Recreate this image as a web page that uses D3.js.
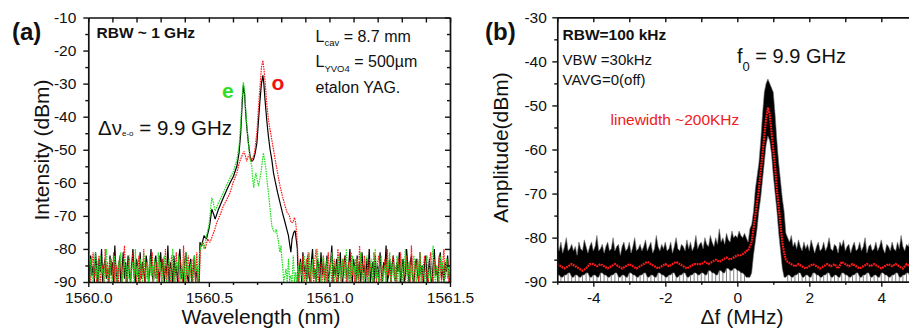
<!DOCTYPE html>
<html><head><meta charset="utf-8">
<script src="https://cdn.jsdelivr.net/npm/d3@7/dist/d3.min.js"></script>
<style>
body{margin:0;background:#fff}
svg{display:block}
text{font-family:"Liberation Sans",Arial,sans-serif}
</style>
</head><body>
<svg id="c" width="909" height="331"></svg>
<script>
// ---------------- Panel (a): optical spectrum ----------------
const wlTicksMajor = [1560.0, 1560.5, 1561.0, 1561.5];
const dbTicksA = [-90, -80, -70, -60, -50, -40, -30, -20, -10];
const noiseStep = 0.005;           // nm, sampling of noise floor
const noiseStartL = 1560.00;
const noiseStartR = 1560.88;
const noiseStartRGreen = 1560.82;

const blackNoiseL = [-84,-90,-82,-88,-85,-90,-81,-86,-90,-83,-87,-80,-90,-85,-83,-89,-86,-90,-82,-88,-84,-90,-79,-87,-90,-85,-83,-90,-86,-81,-89,-84,-90,-82,-87,-90,-85,-80,-88,-90,-83,-86,-90,-81,-89,-84,-87,-90,-82,-85,-90,-86,-80,-88,-90,-84,-82,-89,-86,-90,-81,-87,-83,-90,-85,-88,-79,-90,-84,-86,-90,-82,-88,-85,-90,-83,-80,-89,-86,-90,-84,-81,-88,-90,-85,-83,-90,-87,-82,-90,-86,-90];
const redNoiseL   = [-83,-88,-90,-85,-81,-89,-86,-90,-84,-82,-90,-87,-85,-90,-80,-88,-84,-90,-86,-83,-89,-81,-90,-85,-87,-90,-82,-86,-90,-84,-79,-88,-90,-85,-83,-90,-86,-81,-89,-84,-90,-87,-82,-90,-85,-88,-80,-90,-84,-86,-90,-83,-87,-81,-90,-85,-89,-84,-90,-82,-86,-90,-83,-88,-80,-90,-85,-87,-90,-82,-84,-90,-86,-81,-88,-90,-83,-85,-90,-79,-87,-90,-84,-82,-89,-86,-90,-83,-85,-90,-81,-90];
const greenNoiseL = [-86,-90,-83,-87,-90,-84,-81,-89,-85,-90,-82,-88,-86,-90,-84,-80,-90,-87,-83,-89,-90,-85,-82,-88,-90,-84,-86,-81,-90,-87,-83,-90,-85,-89,-82,-90,-86,-84,-90,-80,-88,-85,-90,-83,-87,-90,-81,-86,-89,-84,-90,-82,-88,-85,-90,-83,-86,-90,-81,-87,-84,-90,-85,-82,-89,-90,-86,-83,-88,-90,-80,-85,-90,-84,-87,-82,-90,-86,-89,-83,-90,-81,-88,-85,-90,-84,-86,-90,-82,-87,-85,-90];

const blackNoiseR = [-83,-90,-81,-87,-85,-90,-82,-88,-90,-84,-80,-89,-86,-90,-83,-85,-90,-81,-88,-84,-90,-86,-82,-90,-87,-84,-79,-90,-85,-88,-83,-90,-86,-81,-89,-90,-84,-82,-87,-90,-85,-80,-88,-90,-83,-86,-90,-82,-89,-84,-90,-81,-87,-85,-90,-83,-88,-80,-90,-86,-84,-90,-82,-89,-85,-90,-81,-87,-90,-84,-86,-79,-90,-88,-83,-90,-85,-82,-89,-90,-84,-87,-81,-90,-86,-83,-90,-88,-80,-85,-90,-84,-82,-89,-90,-86,-83,-87,-90,-81,-88,-85,-90,-84,-82,-90,-87,-83,-89,-90,-85,-80,-88,-86,-90,-83,-81,-89,-85,-90,-84,-87,-82,-88,-90];
const redNoiseR   = [-85,-88,-82,-90,-86,-83,-89,-81,-90,-85,-87,-90,-83,-80,-88,-90,-84,-86,-90,-82,-89,-85,-90,-81,-87,-84,-90,-86,-83,-88,-90,-80,-85,-89,-90,-83,-87,-82,-90,-86,-84,-90,-81,-88,-85,-90,-83,-86,-90,-79,-87,-84,-90,-82,-89,-86,-90,-83,-85,-88,-90,-81,-86,-90,-84,-82,-89,-90,-85,-87,-83,-90,-80,-88,-86,-90,-84,-82,-89,-85,-90,-83,-87,-81,-90,-86,-84,-90,-82,-88,-85,-90,-79,-87,-90,-84,-86,-83,-90,-81,-88,-90,-85,-82,-89,-86,-90,-84,-81,-87,-90,-83,-88,-85,-90,-82,-86,-90,-84,-80,-89,-86,-83,-90,-87];
const greenNoiseR = [-86,-90,-83,-90,-88,-90,-82,-90,-87,-90,-85,-90,-84,-88,-90,-82,-86,-90,-81,-87,-85,-90,-83,-89,-86,-90,-80,-85,-88,-90,-84,-82,-90,-87,-83,-89,-90,-85,-81,-88,-90,-84,-86,-90,-82,-87,-90,-83,-85,-89,-80,-90,-86,-84,-90,-82,-88,-85,-90,-83,-87,-90,-81,-86,-89,-90,-84,-82,-88,-90,-85,-83,-90,-87,-80,-89,-86,-90,-84,-82,-90,-88,-85,-90,-83,-86,-81,-90,-87,-84,-89,-90,-82,-85,-90,-88,-83,-90,-86,-80,-87,-90,-84,-89,-85,-90,-82,-86,-90,-83,-88,-81,-90,-85,-87,-90,-84,-82,-89,-86,-90,-83,-79,-88,-90,-85,-86,-90,-82,-87,-84,-90,-86,-83,-89,-85,-90];

const blackPeakX = [1560.46,1560.463,1560.47,1560.48,1560.49,1560.50,1560.505,1560.512,1560.52,1560.526,1560.54,1560.56,1560.575,1560.588,1560.602,1560.616,1560.625,1560.632,1560.638,1560.643,1560.648,1560.652,1560.657,1560.664,1560.671,1560.678,1560.685,1560.692,1560.699,1560.706,1560.712,1560.718,1560.724,1560.728,1560.733,1560.74,1560.747,1560.754,1560.761,1560.768,1560.775,1560.785,1560.795,1560.805,1560.816,1560.823,1560.83,1560.836,1560.84,1560.845,1560.852,1560.858,1560.862,1560.867,1560.87];
const blackPeakY = [-90,-78,-79,-76,-77,-74,-72,-68,-69.5,-71,-68,-64.5,-62,-60,-58,-55,-51,-45,-36,-30.5,-33,-38,-43,-48,-52,-53.5,-53,-51,-48,-41,-35,-30,-27.5,-30,-35,-41,-46,-50,-53,-57,-59.5,-63,-66,-69,-72,-74,-76,-79,-81,-77,-75,-74.5,-77,-80,-90];

const redPeakX = [1560.46,1560.465,1560.475,1560.485,1560.495,1560.505,1560.515,1560.525,1560.533,1560.545,1560.56,1560.575,1560.588,1560.60,1560.616,1560.626,1560.636,1560.646,1560.652,1560.657,1560.663,1560.668,1560.673,1560.678,1560.684,1560.689,1560.694,1560.699,1560.705,1560.712,1560.718,1560.724,1560.729,1560.733,1560.74,1560.747,1560.754,1560.761,1560.768,1560.775,1560.785,1560.795,1560.805,1560.816,1560.825,1560.834,1560.841,1560.848,1560.855,1560.86,1560.864,1560.868,1560.872];
const redPeakY = [-90,-80,-78,-80,-77,-78,-76,-74,-72,-70,-67,-65,-63,-60,-57,-54,-52,-50.5,-52,-53.5,-52,-51.5,-53,-53.5,-52,-51,-48,-45,-38,-31,-25,-23,-26,-29,-36,-41,-44,-47,-50,-53,-57,-61,-64,-67,-69,-70,-72,-72,-70.5,-72,-75,-80,-90];

const greenPeakX = [1560.455,1560.46,1560.47,1560.48,1560.49,1560.50,1560.507,1560.512,1560.518,1560.526,1560.54,1560.56,1560.575,1560.588,1560.602,1560.616,1560.625,1560.632,1560.638,1560.643,1560.648,1560.653,1560.658,1560.664,1560.671,1560.678,1560.682,1560.686,1560.69,1560.695,1560.70,1560.706,1560.711,1560.716,1560.721,1560.726,1560.731,1560.737,1560.742,1560.747,1560.754,1560.761,1560.768,1560.775,1560.779,1560.784,1560.788,1560.792,1560.795,1560.799,1560.803,1560.807,1560.81];
const greenPeakY = [-90,-82,-78,-80,-76,-73,-68,-64.5,-66,-68.5,-66,-63,-60.5,-58.5,-56.5,-53,-49,-42,-34,-29.5,-32,-38,-43,-48,-53,-55,-59,-61.5,-59,-57,-59,-61,-59,-57,-54,-51,-53,-56,-60,-63,-68,-73,-74.5,-75,-74,-76,-77.5,-80,-81,-79,-83,-86,-90];

// ---------------- Panel (b): RF beat note ----------------
const dfTicksMajor = [-4, -2, 0, 2, 4];
const dbTicksB = [-90, -80, -70, -60, -50, -40, -30];
const hiStep = 0.05;                // MHz, upper envelope sampling
const rfStep = 0.1;                 // MHz, lower envelope / average sampling
const rfStartL = -5.0;
const rfStartR = 1.4;
const rfHiL = [
  -82,-83,-81,-83.5,-82,-80,-83,-82.5,-81.5,-83,
  -82,-84,-81,-82.5,-83,-80.5,-82,-83.5,-82,-81,
  -83,-82,-79.5,-83,-82.5,-81.5,-83.5,-82,-81,-83,
  -82.5,-80,-83,-82,-81.5,-84,-82,-81,-83,-82.5,
  -81,-83.5,-82,-80,-83,-82.5,-81.5,-83,-82,-80.5,
  -83,-82,-81,-83.5,-82.5,-79.5,-82,-83,-81.5,-82.5,
  -81,-83,-82.5,-81,-83.5,-82,-80,-82.5,-83,-81.5,
  -82,-83,-80.5,-82.5,-81,-83,-82,-79.5,-82.5,-81.5,
  -81,-82.5,-80,-81.5,-82,-79.5,-81,-82,-80,-81.5,
  -78,-81,-80,-81.5,-79,-80.5,-81,-78.5,-80,-79.5,
  -80,-78.5,-79.5,-80,-79];
const rfLoL = [-88.5,-89,-88.5,-88,-89,-88.5,-89,-88.5,-88,-89,-88.5,-89,-88,-88.5,-89,-88.5,-88,-89,-88.5,-89,-88,-88.5,-89,-88.5,-88,-89,-88.5,-89,-88,-88.5,-89,-88.5,-88,-89,-88.5,-88,-89,-88.5,-88,-88.5,-88,-88.5,-87.5,-88,-88.5,-87.5,-88,-87,-87.5,-87,-87.5,-88,-88.5];
const rfAvgL = [-86,-86.5,-87,-86.5,-86,-86.5,-87,-87.5,-87,-86,-86,-86.5,-86,-86.5,-87,-86.5,-86,-86.5,-87,-86.5,-86,-86.5,-87,-86.5,-86,-85.5,-86,-86.5,-87,-86.5,-86,-86.5,-86,-85.5,-86,-86.5,-87,-86.5,-86,-86,-86,-85.5,-86,-85.5,-85,-85.5,-85,-84.5,-85,-84.5,-84,-84,-83.5];
const rfPeakX  = [0.25,0.3,0.35,0.4,0.45,0.5,0.55,0.6,0.65,0.7,0.75,0.8,0.85,0.9,0.95,1.0,1.05,1.1,1.15,1.2,1.25,1.3,1.35];
const rfPeakHi = [-80,-81,-78,-77,-74,-69,-66,-63,-58,-52,-47,-45,-44,-45,-46,-47,-52,-58,-63,-67,-71,-74,-79];
const rfPeakLo = [-89,-89,-89,-88,-84,-81,-78,-74,-71,-67,-63,-59,-57,-58,-61,-66,-70,-74,-79,-83,-87,-89,-89];
const rfPeakAvg = [-83,-83,-82,-81,-78,-75,-72,-69,-65,-61,-57,-53,-50.5,-52,-56,-60,-64,-69,-73,-77,-81,-83.5,-85];
const rfHiR = [
  -80,-81,-79.5,-82,-81,-82.5,-80.5,-82,-83,-81,
  -82.5,-81.5,-83,-80.5,-82,-83.5,-82,-81,-83,-82.5,
  -81,-83,-82,-80,-82.5,-83,-81.5,-82,-83.5,-81,
  -82,-80.5,-83,-82,-81.5,-83.5,-82,-81,-83,-82.5,
  -81,-83,-82,-80,-83.5,-82,-81.5,-83,-82.5,-81,
  -83,-82,-80.5,-82.5,-83.5,-81.5,-82,-83,-81,-82.5,
  -83,-81,-82.5,-79.5,-82,-83,-81.5,-82,-80.5];
const rfLoR = [-88.5,-89,-88.5,-88,-89,-88.5,-89,-88,-88.5,-89,-88.5,-88,-89,-88.5,-89,-88,-88.5,-89,-88.5,-88,-89,-88.5,-88,-89,-88.5,-89,-88,-88.5,-89,-88.5,-88,-89,-88.5,-88,-89];
const rfAvgR = [-85.5,-86,-86.5,-86,-86.5,-87,-86.5,-86,-86.5,-87,-86.5,-86,-86.5,-86,-87,-85.5,-86,-86.5,-86,-86.5,-87,-86.5,-86,-86.5,-86,-86.5,-87,-86.5,-86,-86.5,-86,-86.5,-87,-86,-86.5];

// ---------------- build ----------------
const svg = d3.select("#c");
const seg = (start, step, vals) => vals.map((v, i) => [start + i * step, v]);
const zip = (xs, ys) => xs.map((x, i) => [x, ys[i]]);

const xA = d3.scaleLinear().domain([1560.0, 1561.5]).range([88.3, 450]);
const yA = d3.scaleLinear().domain([-90, -10]).range([282, 17.5]);
const xB = d3.scaleLinear().domain([-5, 5]).range([557.3, 917.3]);
const yB = d3.scaleLinear().domain([-90, -30]).range([281.7, 17.3]);

const defs = svg.append("defs");
defs.append("clipPath").attr("id", "clipA").append("rect")
  .attr("x", 88.3).attr("y", 17.5).attr("width", 450 - 88.3).attr("height", 282 - 17.5);
defs.append("clipPath").attr("id", "clipB").append("rect")
  .attr("x", 557.3).attr("y", 17.3).attr("width", 917.3 - 557.3).attr("height", 281.7 - 17.3);

// panel a lines
const lineA = d3.line().x(d => xA(d[0])).y(d => yA(d[1]));
const gA = svg.append("g").attr("clip-path", "url(#clipA)");
const seriesA = [
  {pts: [...seg(noiseStartL, noiseStep, blackNoiseL), ...zip(blackPeakX, blackPeakY), ...seg(noiseStartR, noiseStep, blackNoiseR)], color: "#000", dash: null},
  {pts: [...seg(noiseStartL, noiseStep, redNoiseL), ...zip(redPeakX, redPeakY), ...seg(noiseStartR, noiseStep, redNoiseR)], color: "#ff1a1a", dash: "1.6,0.9"},
  {pts: [...seg(noiseStartL, noiseStep, greenNoiseL), ...zip(greenPeakX, greenPeakY), ...seg(noiseStartRGreen, noiseStep, greenNoiseR)], color: "#22dd22", dash: "1.6,0.9"}
];
seriesA.forEach(s => {
  const p = gA.append("path").attr("d", lineA(s.pts)).attr("fill", "none")
    .attr("stroke", s.color).attr("stroke-width", 1.2).attr("stroke-linejoin", "bevel");
  if (s.dash) p.attr("stroke-dasharray", s.dash);
});

// panel b
const bandL = rfHiL.map((h, i) => ({x: rfStartL + i * hiStep, hi: h, lo: rfLoL[Math.floor(i / 2)]}));
const bandP = rfPeakX.map((x, i) => ({x: x, hi: rfPeakHi[i], lo: rfPeakLo[i]}));
const bandR = rfHiR.map((h, i) => ({x: rfStartR + i * hiStep, hi: h, lo: rfLoR[Math.floor(i / 2)]}));
const band = [...bandL, ...bandP, ...bandR];
const combPts = [...seg(rfStartL, rfStep, rfLoL), ...seg(rfStartR, rfStep, rfLoR)];
const avgPts = [...seg(rfStartL, rfStep, rfAvgL), ...zip(rfPeakX, rfPeakAvg), ...seg(rfStartR, rfStep, rfAvgR)];

const gB = svg.append("g").attr("clip-path", "url(#clipB)");
gB.selectAll("line.comb").data(combPts).join("line").attr("class", "comb")
  .attr("x1", d => xB(d[0])).attr("x2", d => xB(d[0]))
  .attr("y1", d => yB(d[1])).attr("y2", yB(-90))
  .attr("stroke", "#666").attr("stroke-width", 0.8);
gB.append("path")
  .attr("d", d3.area().x(d => xB(d.x)).y0(d => yB(d.lo)).y1(d => yB(d.hi))(band))
  .attr("fill", "#000").attr("stroke", "#777").attr("stroke-width", 0.6);
gB.append("path")
  .attr("d", d3.line().x(d => xB(d[0])).y(d => yB(d[1]))(avgPts))
  .attr("fill", "none").attr("stroke", "#ff1a1a").attr("stroke-width", 2.2).attr("stroke-dasharray", "1.8,0.8");

// axes
function axes(x, y, xMaj, xMin, yMaj, yMin, xFmt, yPad, topTicks) {
  const [x0, x1] = x.range(), [yb, yt] = y.range();
  const style = g => {
    g.attr("font-family", null).attr("font-size", null);
    g.selectAll(".domain").attr("stroke", "#111").attr("stroke-width", 1.7);
    g.selectAll(".tick line").attr("stroke", "#111").attr("stroke-width", 1.4);
    g.selectAll("text").attr("font-size", 15.5).attr("fill", "#111");
  };
  const noDom = g => g.select(".domain").remove();
  svg.append("g").attr("transform", `translate(0,${yb})`)
    .call(d3.axisBottom(x).tickValues(xMaj).tickSize(5).tickSizeOuter(0).tickPadding(5).tickFormat(xFmt)).call(style);
  svg.append("g").attr("transform", `translate(0,${yb})`)
    .call(d3.axisBottom(x).tickValues(xMin).tickSize(3).tickFormat("")).call(noDom).call(style);
  svg.append("g").attr("transform", `translate(0,${yt})`)
    .call(d3.axisTop(x).tickValues(topTicks).tickSize(-5).tickSizeOuter(0).tickFormat("")).call(style);
  svg.append("g").attr("transform", `translate(${x0},0)`)
    .call(d3.axisLeft(y).tickValues(yMaj).tickSize(5).tickSizeOuter(0).tickPadding(yPad).tickFormat(d => String(d))).call(style);
  svg.append("g").attr("transform", `translate(${x0},0)`)
    .call(d3.axisLeft(y).tickValues(yMin).tickSize(3).tickFormat("")).call(noDom).call(style);
  svg.append("g").attr("transform", `translate(${x1},0)`)
    .call(d3.axisRight(y).tickValues(yMaj).tickSize(-5).tickSizeOuter(0).tickFormat("")).call(style);
  svg.append("g").attr("transform", `translate(${x1},0)`)
    .call(d3.axisRight(y).tickValues(yMin).tickSize(-3).tickFormat("")).call(noDom).call(style);
}
const wlMinor = d3.range(0, 16).map(i => 1560 + i * 0.1).filter(v => Math.abs(v * 2 - Math.round(v * 2)) > 1e-6);
const dbMinorA = dbTicksA.slice(1).map(v => v - 5);
const dbMinorB = dbTicksB.slice(1).map(v => v - 5);
axes(xA, yA, wlTicksMajor, wlMinor, dbTicksA, dbMinorA, d3.format(".1f"), 7, d3.range(0, 16).map(i => 1560 + i * 0.1));
axes(xB, yB, dfTicksMajor, [-5, -3, -1, 1, 3, 5], dbTicksB, dbMinorB, d => String(d), 5.5, d3.range(-5, 6));

// texts
const T = (x, y, s, size, opts = {}) => {
  const t = svg.append("text").attr("x", x).attr("y", y).attr("font-size", size).attr("fill", opts.fill || "#111").text(s);
  if (opts.bold) t.attr("font-weight", "bold");
  if (opts.anchor) t.attr("text-anchor", opts.anchor);
  return t;
};
T(12, 40, "(a)", 24, {bold: true});
T(485, 40, "(b)", 24, {bold: true});
T(96.5, 38, "RBW ~ 1 GHz", 15.5, {bold: true});
T(562.5, 40, "RBW=100 kHz", 15.5, {bold: true});
T(562.5, 64.5, "VBW =30kHz", 15);
T(562.5, 84.5, "VAVG=0(off)", 15);
T(610.5, 125, "linewidth ~200KHz", 15.5, {fill: "#ee2020"});
T(222, 98, "e", 21, {bold: true, fill: "#33dd22"});
T(271.5, 90, "o", 21, {bold: true, fill: "#ee1111"});

let t = T(315.5, 41.5, "L", 16);
t.append("tspan").attr("font-size", 9.5).attr("dy", 4.5).text("cav");
t.append("tspan").attr("dy", -4.5).text(" = 8.7 mm");
t = T(315.5, 67, "L", 16);
t.append("tspan").attr("font-size", 9.5).attr("dy", 4.5).text("YVO4");
t.append("tspan").attr("dy", -4.5).text(" = 500µm");
T(315.5, 93, "etalon YAG.", 16);

t = T(98, 135, "Δν", 20.5);
t.append("tspan").attr("font-size", 8).attr("dy", 1).text("e-o");
t.append("tspan").attr("dy", -1).text(" = 9.9 GHz");

t = T(737, 63, "f", 20);
t.append("tspan").attr("font-size", 13).attr("dy", 8).text("0");
t.append("tspan").attr("dy", -8).text(" = 9.9 GHz");

T(261, 324, "Wavelength (nm)", 21, {anchor: "middle"});
T(742, 324, "Δf (MHz)", 21, {anchor: "middle"});
svg.append("text").attr("transform", "translate(48.5,150) rotate(-90)").attr("text-anchor", "middle").attr("font-size", 21).attr("fill", "#111").text("Intensity (dBm)");
svg.append("text").attr("transform", "translate(508,147.5) rotate(-90)").attr("text-anchor", "middle").attr("font-size", 21).attr("fill", "#111").text("Amplitude(dBm)");
</script>
</body></html>
